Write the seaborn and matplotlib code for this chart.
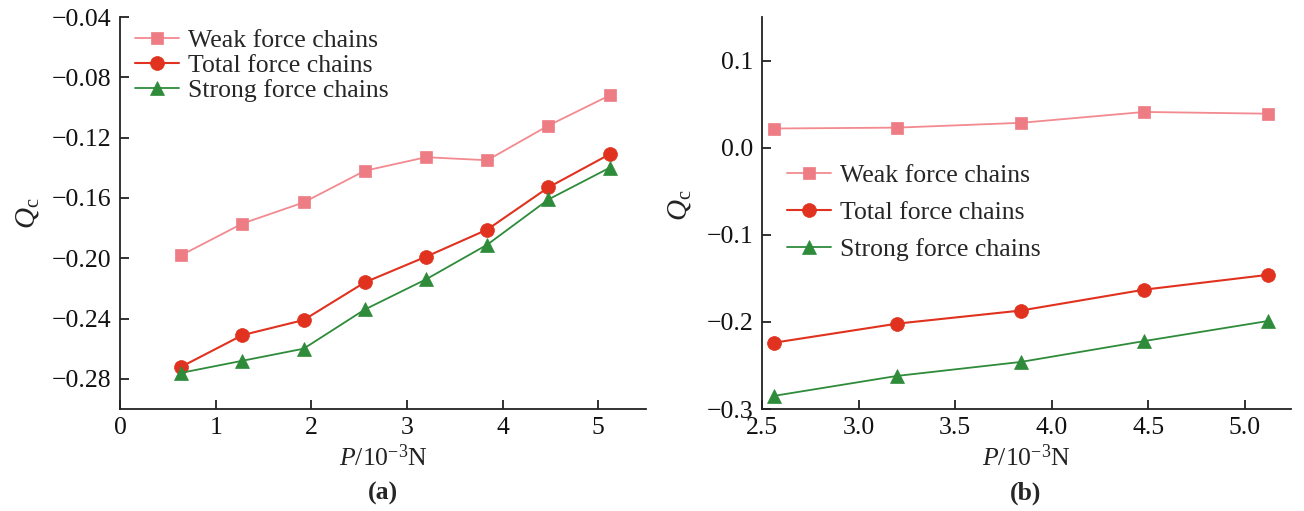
import matplotlib
matplotlib.use("Agg")
import matplotlib.pyplot as plt
import seaborn as sns
import numpy as np

# ---- data ----
p_a = [0.64, 1.28, 1.92, 2.56, 3.20, 3.84, 4.48, 5.12]
weak_a = [-0.198, -0.177, -0.163, -0.142, -0.133, -0.135, -0.112, -0.092]
total_a = [-0.272, -0.251, -0.241, -0.216, -0.199, -0.181, -0.153, -0.131]
strong_a = [-0.276, -0.268, -0.260, -0.234, -0.214, -0.191, -0.161, -0.140]

p_b = [2.56, 3.20, 3.84, 4.48, 5.12]
weak_b = [0.022, 0.023, 0.0285, 0.041, 0.039]
total_b = [-0.224, -0.202, -0.187, -0.163, -0.146]
strong_b = [-0.285, -0.262, -0.246, -0.222, -0.199]

labels = ["Weak force chains", "Total force chains", "Strong force chains"]
yticks_a = [-0.28, -0.24, -0.20, -0.16, -0.12, -0.08, -0.04]
yticklabels_a = ["\u22120.28", "\u22120.24", "\u22120.20", "\u22120.16", "\u22120.12", "\u22120.08", "\u22120.04"]
xticks_a = [0, 1, 2, 3, 4, 5]
yticks_b = [-0.3, -0.2, -0.1, 0.0, 0.1]
yticklabels_b = ["\u22120.3", "\u22120.2", "\u22120.1", "0.0", "0.1"]
xticks_b = [2.5, 3.0, 3.5, 4.0, 4.5, 5.0]
xticklabels_b = ["2.5", "3.0", "3.5", "4.0", "4.5", "5.0"]

sns.set_theme(style="ticks")
plt.rcParams['font.family'] = ['Liberation Serif', 'DejaVu Serif']
plt.rcParams['mathtext.fontset'] = 'custom'
plt.rcParams['mathtext.rm'] = 'Liberation Serif'
plt.rcParams['mathtext.it'] = 'Liberation Serif:italic'
plt.rcParams['mathtext.bf'] = 'Liberation Serif:bold'

FS = 18.5
styles = [
    dict(marker='s', color='#F28A90', mfc='#EE7C84', mec='#EE7C84', lw=1.3, ms=9),
    dict(marker='o', color='#E0321E', mfc='#E0321E', mec='#E0321E', lw=1.5, ms=10),
    dict(marker='^', color='#2E8B3A', mfc='#2E8B3A', mec='#2E8B3A', lw=1.3, ms=10),
]

fig = plt.figure(figsize=(13.04, 5.11), dpi=100)
W, H = 1304, 511
ax1 = fig.add_axes([120 / W, 1 - 409 / H, 526 / W, 392 / H])
ax2 = fig.add_axes([762 / W, 1 - 409 / H, 529 / W, 392 / H])


def draw(ax, x, series):
    for ys, lab, st in zip(series, labels, styles):
        sns.lineplot(x=x, y=ys, ax=ax, label=lab, marker=st['marker'], color=st['color'],
                     linewidth=st['lw'], markersize=st['ms'], markerfacecolor=st['mfc'],
                     markeredgecolor=st['mec'], markeredgewidth=0.5)
    sns.despine(ax=ax)
    for s in ['left', 'bottom']:
        ax.spines[s].set_linewidth(1.3)
        ax.spines[s].set_color('#222222')
    ax.tick_params(direction='in', length=6.5, width=1.3, labelsize=FS, colors='#222222',
                   labelcolor='#111111', pad=6)


draw(ax1, p_a, [weak_a, total_a, strong_a])
ax1.set_xlim(0, 5.5)
ax1.set_ylim(-0.30, -0.04)
ax1.set_xticks(xticks_a)
ax1.set_xticklabels([str(v) for v in xticks_a])
ax1.set_yticks(yticks_a)
ax1.set_yticklabels(yticklabels_a)
ax1.set_xlabel(r'$P/10^{-3}\mathrm{N}$', fontsize=FS, labelpad=4, color='#222222')
ax1.set_ylabel(r'$Q_\mathrm{c}$', fontsize=21, color='#222222')
ax1.yaxis.set_label_coords(-0.15, 0.5)
ax1.legend(loc='upper left', bbox_to_anchor=(15 / 526, 0.97), frameon=False, fontsize=FS,
           handlelength=1.7, handletextpad=0.35, labelspacing=0.08, borderpad=0, borderaxespad=0)

draw(ax2, p_b, [weak_b, total_b, strong_b])
ax2.set_xlim(2.5, 5.24)
ax2.set_ylim(-0.30, 0.15)
ax2.set_xticks(xticks_b)
ax2.set_xticklabels(xticklabels_b)
ax2.set_yticks(yticks_b)
ax2.set_yticklabels(yticklabels_b)
ax2.set_xlabel(r'$P/10^{-3}\mathrm{N}$', fontsize=FS, labelpad=4, color='#222222')
ax2.set_ylabel(r'$Q_\mathrm{c}$', fontsize=21, color='#222222')
ax2.yaxis.set_label_coords(-0.13, 0.52)
ax2.legend(loc='upper left', bbox_to_anchor=(25 / 529, 0.625), frameon=False, fontsize=FS,
           handlelength=1.7, handletextpad=0.35, labelspacing=0.55, borderpad=0, borderaxespad=0)

fig.text(383 / W, 1 - 493 / H, '(a)', ha='center', va='center', fontsize=FS, fontweight='bold')
fig.text(1026 / W, 1 - 493 / H, '(b)', ha='center', va='center', fontsize=FS, fontweight='bold')

fig.savefig('out.png', dpi=100)
